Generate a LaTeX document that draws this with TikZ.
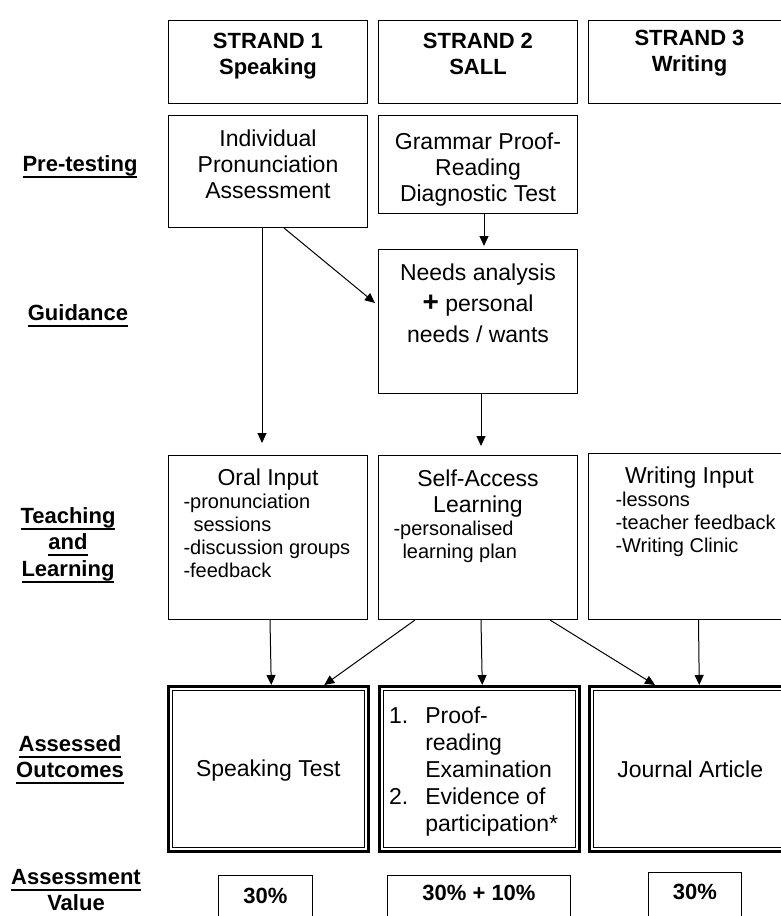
\documentclass[tikz,border=0pt]{standalone}
\usepackage{fontspec}
\setmainfont{Liberation Sans}
\usetikzlibrary{arrows.meta}

\newcommand{\tbox}[4]{\parbox[c][#1pt][t]{#2pt}{\vspace*{#3pt}#4}}
\newcommand{\ulin}[1]{\leavevmode\setbox0=\hbox{#1}\rlap{\rule[-6.5pt]{\wd0}{1.8pt}}\box0}

\tikzset{
  box/.style={draw, line width=1pt, inner sep=0pt, anchor=north west, font=\fontsize{23}{26}\selectfont},
  head/.style={box, font=\bfseries\fontsize{22}{26}\selectfont},
  obox/.style={box, line width=2.5pt},
  lab/.style={inner sep=0pt, anchor=north, align=center, font=\bfseries\fontsize{22}{26.5}\selectfont},
  arr/.style={-{Triangle[length=10pt,width=9pt]}, line width=1pt},
}

\begin{document}
\begin{tikzpicture}[x=1pt, y=-1pt]
\clip (0,0) rectangle (781,916);
\fill[white] (0,0) rectangle (781,916);

% strands
\node[head] (h1) at (168,20) {\tbox{83}{199}{13}{\centering STRAND 1\\Speaking}};
\node[head] (h2) at (378,20) {\tbox{83}{199}{13}{\centering STRAND 2\\SALL}};
\node[head] (h3) at (588,20) {\tbox{83}{202}{10}{\centering STRAND 3\\Writing}};

% row labels
\node[lab] (pre) at (80,155) {\ulin{Pre-testing}};
\node[lab] (gui) at (78,304) {\ulin{Guidance}};
\node[lab] (tea) at (68,507) {\ulin{Teaching}\\\ulin{and}\\\ulin{Learning}};
\node[lab] (ass) at (70,735) {\ulin{Assessed}\\\ulin{Outcomes}};
\node[lab] (val) at (76,869) {\ulin{Assessment}\\\ulin{Value}};

% pre-testing and guidance
\node[box] (ipa) at (168,115) {\tbox{112}{199}{14}{\centering Individual\\Pronunciation\\Assessment}};
\node[box] (gpr) at (378,115) {\tbox{98}{199}{17}{\centering Grammar Proof-\\Reading\\Diagnostic Test}};
\node[box] (need) at (378,249) {\tbox{144}{199}{14}{\centering\fontsize{23}{31}\selectfont Needs analysis\\{\fontsize{28}{31}\selectfont\bfseries +} personal\\needs / wants}};

% teaching and learning
\node[box] (oral) at (168,455) {\tbox{164}{199}{13}{\centering Oral Input\par
  \raggedright\leftskip=15pt\fontsize{20}{23}\selectfont -pronunciation\\\hspace*{10pt}sessions\\-discussion groups\\-feedback}};
\node[box] (sal) at (378,455) {\tbox{164}{199}{14}{\centering Self-Access\\Learning\par
  \raggedright\leftskip=15pt\fontsize{20}{23}\selectfont -personalised\\\hspace*{9pt}learning plan}};
\node[box] (wri) at (588,453) {\tbox{166}{202}{13}{\centering Writing Input\par
  \raggedright\leftskip=27pt\fontsize{20}{23}\selectfont -lessons\\-teacher feedback\\-Writing Clinic}};

% assessed outcomes
\node[obox] (spk) at (167,685) {\tbox{165}{200}{74}{\centering Speaking Test}};
\node[obox] (prf) at (378,685) {\tbox{165}{200}{21}{\fontsize{23}{27}\selectfont\raggedright\leftskip=46pt
  \leavevmode\llap{1.\hspace{17pt}}Proof-\\reading\\Examination\\\leavevmode\llap{2.\hspace{17pt}}Evidence of\\participation*}};
\node[obox] (jrn) at (588,685) {\tbox{165}{202}{75}{\centering Journal Article}};
\foreach \b in {spk,prf,jrn}
  \draw[line width=1pt] ([shift={(5,5)}]\b.north west) rectangle ([shift={(-5,-5)}]\b.south east);

% assessment values
\node[head] (v1) at (218,875) {\tbox{60}{94}{13}{\centering 30\%}};
\node[head] (v2) at (387,875) {\tbox{60}{183}{10}{\centering 30\% + 10\%}};
\node[head] (v3) at (648,872) {\tbox{60}{93}{12}{\centering 30\%}};

% arrows
\draw[arr, shorten >=12pt] ([xshift=-6]ipa.south) -- ([xshift=-6]oral.north);
\draw[arr, shorten >=4pt] ([xshift=16]ipa.south) -- ([yshift=16]need.west);
\draw[arr, shorten >=3pt] ([xshift=6]gpr.south) -- ([xshift=6]need.north);
\draw[arr, shorten >=9pt] ([xshift=3]need.south) -- ([xshift=3]sal.north);
\draw[arr] ([xshift=2]oral.south) -- ([xshift=3]spk.north);
\draw[arr] ([xshift=37]sal.south west) -- ([xshift=56]spk.north);
\draw[arr] ([xshift=3]sal.south) -- ([xshift=3]prf.north);
\draw[arr] ([xshift=-28]sal.south east) -- ([xshift=67]jrn.north west);
\draw[arr] ([xshift=9]wri.south) -- ([xshift=9]jrn.north);
\end{tikzpicture}
\end{document}
